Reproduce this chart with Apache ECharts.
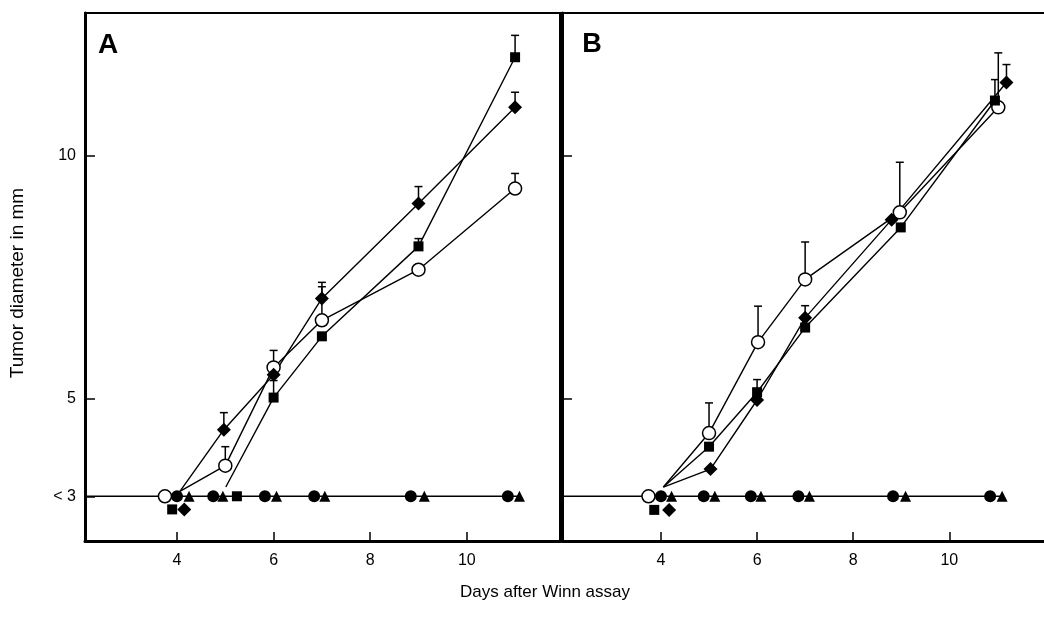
<!DOCTYPE html>
<html>
<head>
<meta charset="utf-8">
<title>Tumor diameter</title>
<script src="https://cdn.jsdelivr.net/npm/echarts@6/dist/echarts.min.js"></script>
<style>
    html, body { margin: 0; background: #fff; }
    #main { width: 1044px; height: 626px; }
</style>
</head>
<body>
<div id="main"></div>
<script>
    // tick positions
    var xTicks = [4, 6, 8, 10]
    var yTicksA = [3, 5, 10]
    var yTicksB = [5, 10]

    // panel A: [day, diameter]
    var startA = [4.06, 3.1]
    var squareStartA = [5.01, 3.19]
    var openA = [[5, 3.63], [6, 5.65], [7, 6.62], [9, 7.66], [11, 9.33]]
    var diamondA = [[4.97, 4.37], [6, 5.5], [7, 7.07], [9, 9.02], [11, 11.0]]
    var squareA = [[6, 5.03], [7, 6.29], [9, 8.14], [11, 12.03]]
    var dotA = [4.0, 4.75, 5.82, 6.84, 8.84, 10.85]
    var triA = [4.25, 4.95, 6.06, 7.06, 9.12, 11.09]
    var openBaseA = [[3.75, 3]]
    var squareBaseA = [[3.9, 2.73], [5.24, 3]]
    var diamondBaseA = [[4.15, 2.73]]
    // error bars: [day, mean, mean + sd]
    var errA = [
        [5, 3.63, 4.02], [6, 5.65, 6.0], [7, 6.62, 7.31], [11, 9.33, 9.64],
        [4.97, 4.37, 4.72], [7, 7.07, 7.4], [9, 9.02, 9.37], [11, 11.0, 11.31],
        [6, 5.03, 5.38], [9, 8.14, 8.3], [11, 12.03, 12.48]
    ]

    // panel B
    var startB = [4.05, 3.19]
    var openB = [[5, 4.3], [6.02, 6.17], [7, 7.46], [8.97, 8.84], [11.02, 11.0]]
    var squareB = [[5, 4.02], [6, 5.14], [7, 6.47], [8.99, 8.53], [10.95, 11.14]]
    var diamondB = [[5.03, 3.56], [6, 4.98], [7, 6.67], [8.8, 8.69], [11.19, 11.51]]
    var dotB = [4.0, 4.89, 5.87, 6.86, 8.83, 10.85]
    var triB = [4.22, 5.12, 6.08, 7.09, 9.09, 11.1]
    var openBaseB = [[3.74, 3]]
    var squareBaseB = [[3.86, 2.72]]
    var diamondBaseB = [[4.17, 2.72]]
    var errB = [
        [5, 4.3, 4.92], [6.02, 6.17, 6.91], [7, 7.46, 8.23], [8.97, 8.84, 9.87], [11.02, 11.0, 12.12],
        [6, 5.14, 5.4], [7, 6.47, 6.92], [10.95, 11.14, 11.57],
        [11.19, 11.51, 11.88]
    ]

    var diamond = 'path://M0,-10L10,0L0,10L-10,0Z'
    var font = 'Liberation Sans'

    var lineSeries = function(i, start, pts, symbol, size, fill) {
        var data = pts.slice()
        if (start) {
            data.unshift({value: start, symbol: 'none'})
        }
        return {
            type: 'line', xAxisIndex: i, yAxisIndex: i, data: data,
            symbol: symbol, symbolSize: size, showAllSymbol: true, symbolKeepAspect: true,
            itemStyle: {color: fill, borderColor: '#000', borderWidth: fill == '#fff' ? 1.5 : 0},
            lineStyle: {color: '#000', width: 1.4},
            z: 3
        }
    }

    var marks = function(i, pts, symbol, size, fill) {
        return {
            type: 'scatter', xAxisIndex: i, yAxisIndex: i, data: pts,
            symbol: symbol, symbolSize: size, symbolKeepAspect: true,
            itemStyle: {color: fill, borderColor: '#000', borderWidth: fill == '#fff' ? 1.5 : 0, opacity: 1},
            z: 4
        }
    }

    var onBase = function(xs) {
        return xs.map(function(x) { return [x, 3] })
    }

    var baseLine = function(i, x0, xs) {
        return {
            type: 'line', xAxisIndex: i, yAxisIndex: i, symbol: 'none',
            data: [[x0, 3], [xs[xs.length - 1], 3]],
            lineStyle: {color: '#000', width: 1.4}, z: 2
        }
    }

    var errBar = function(params, api) {
        var p0 = api.coord([api.value(0), api.value(1)])
        var p1 = api.coord([api.value(0), api.value(2)])
        var st = {stroke: '#000', lineWidth: 1.5}
        return {
            type: 'group',
            children: [
                {type: 'line', shape: {x1: p0[0], y1: p0[1], x2: p1[0], y2: p1[1]}, style: st},
                {type: 'line', shape: {x1: p1[0] - 4, y1: p1[1], x2: p1[0] + 4, y2: p1[1]}, style: st}
            ]
        }
    }

    var errSeries = function(i, data) {
        return {type: 'custom', xAxisIndex: i, yAxisIndex: i, data: data, renderItem: errBar, z: 1}
    }

    var xAxis = function(i, min, max) {
        return {
            type: 'value', gridIndex: i, min: min, max: max,
            axisLine: {lineStyle: {color: '#000', width: 3}},
            axisTick: {inside: true, length: 9, customValues: xTicks, lineStyle: {color: '#000', width: 1.5}},
            axisLabel: {customValues: xTicks, margin: 12, color: '#000', fontSize: 16, fontFamily: font},
            splitLine: {show: false}
        }
    }

    var yAxis = function(i, ticks, labels) {
        return {
            type: 'value', gridIndex: i, min: 2.08, max: 12.94,
            axisLine: {show: true, lineStyle: {color: '#000', width: 3}},
            axisTick: {show: true, inside: true, length: 10, customValues: ticks, lineStyle: {color: '#000', width: 1.5}},
            axisLabel: {
                show: labels, customValues: ticks, margin: 9, color: '#000', fontSize: 16, fontFamily: font,
                formatter: function(v) { return v == 3 ? '< 3' : String(v) }
            },
            splitLine: {show: false}
        }
    }

    var element = document.querySelector('#main')
    var myChart = echarts.init(element)

    var option = {
        animation: false,
        grid: [
            {left: 85, top: 13, width: 475, height: 528, show: true, borderColor: '#000', borderWidth: 2, outerBoundsMode: 'none'},
            {left: 562, top: 13, width: 488, height: 528, show: true, borderColor: '#000', borderWidth: 2, outerBoundsMode: 'none'}
        ],
        xAxis: [xAxis(0, 2.095, 11.93), xAxis(1, 1.94, 12.096)],
        yAxis: [yAxis(0, yTicksA, true), yAxis(1, yTicksB, false)],
        graphic: [
            {type: 'text', x: 108, y: 45, style: {text: 'A', font: 'bold 28px ' + font, fill: '#000', align: 'center', verticalAlign: 'middle'}},
            {type: 'text', x: 592, y: 45, style: {text: 'B', font: 'bold 27px ' + font, fill: '#000', align: 'center', verticalAlign: 'middle'}},
            {type: 'text', x: 18, y: 283, rotation: Math.PI / 2, style: {text: 'Tumor diameter in mm', font: '19px ' + font, fill: '#000', align: 'center', verticalAlign: 'middle'}},
            {type: 'text', x: 545, y: 592, style: {text: 'Days after Winn assay', font: '17px ' + font, fill: '#000', align: 'center', verticalAlign: 'middle'}}
        ],
        series: [
            errSeries(0, errA),
            baseLine(0, 2.095, triA),
            lineSeries(0, startA, openA, 'circle', 13, '#fff'),
            lineSeries(0, startA, diamondA, diamond, 14, '#000'),
            lineSeries(0, squareStartA, squareA, 'rect', 10, '#000'),
            marks(0, onBase(dotA), 'circle', 12, '#000'),
            marks(0, onBase(triA), 'triangle', 11, '#000'),
            marks(0, openBaseA, 'circle', 13, '#fff'),
            marks(0, squareBaseA, 'rect', 10, '#000'),
            marks(0, diamondBaseA, diamond, 14, '#000'),

            errSeries(1, errB),
            baseLine(1, 1.94, triB),
            lineSeries(1, startB, openB, 'circle', 13, '#fff'),
            lineSeries(1, startB, squareB, 'rect', 10, '#000'),
            lineSeries(1, startB, diamondB, diamond, 14, '#000'),
            marks(1, onBase(dotB), 'circle', 12, '#000'),
            marks(1, onBase(triB), 'triangle', 11, '#000'),
            marks(1, openBaseB, 'circle', 13, '#fff'),
            marks(1, squareBaseB, 'rect', 10, '#000'),
            marks(1, diamondBaseB, diamond, 14, '#000')
        ]
    }

    myChart.setOption(option)
</script>
</body>
</html>
